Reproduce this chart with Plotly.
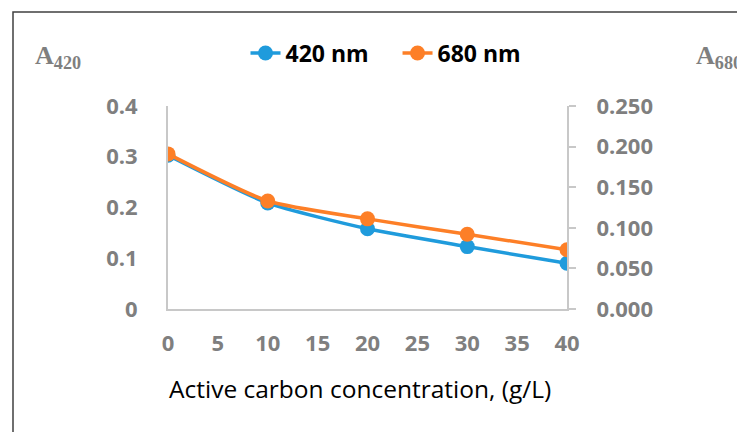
import plotly.graph_objects as go

# Absorbance versus active carbon dose
conc = [0, 10, 20, 30, 40]
a420 = [0.303, 0.209, 0.158, 0.123, 0.090]
a680 = [0.191, 0.133, 0.111, 0.092, 0.073]

left_ticks = [0, 0.1, 0.2, 0.3, 0.4]
left_labels = ["0", "0.1", "0.2", "0.3", "0.4"]
right_ticks = [0, 0.05, 0.10, 0.15, 0.20, 0.25]
right_labels = ["0.000", "0.050", "0.100", "0.150", "0.200", "0.250"]
x_ticks = [0, 5, 10, 15, 20, 25, 30, 35, 40]

BLUE = "#1f9bdc"
ORANGE = "#fd7f27"
GREY = "#7f7f7f"
AXIS = "#c8c8c8"

W, H = 737, 432
L, R, T, B = 168, 170, 106, 123
pw, ph = W - L - R, H - T - B
GAP = "\u00a0" * 4  # extra spacing between legend entries


def px(x):
    return (x - L) / pw


def py(y):
    return (H - B - y) / ph


fig = go.Figure()
fig.add_trace(go.Scatter(
    x=conc, y=a420, name="420 nm" + GAP, mode="lines+markers",
    line=dict(color=BLUE, width=3.5, shape="spline", smoothing=0.6),
    marker=dict(color=BLUE, size=15), yaxis="y"))
fig.add_trace(go.Scatter(
    x=conc, y=a680, name="680 nm", mode="lines+markers",
    line=dict(color=ORANGE, width=3.5, shape="spline", smoothing=0.6),
    marker=dict(color=ORANGE, size=15), yaxis="y2"))

tick_font = dict(family="Open Sans", size=22, color=GREY, weight="bold")

fig.update_layout(
    width=W, height=H,
    margin=dict(l=L, r=R, t=T, b=B),
    paper_bgcolor="white", plot_bgcolor="white",
    showlegend=True,
    legend=dict(orientation="h", x=px(386), y=py(53), xanchor="center", yanchor="middle",
                font=dict(family="Open Sans", size=23, color="black", weight="bold"),
                bgcolor="rgba(0,0,0,0)"),
    xaxis=dict(range=[0, 40], tickvals=x_ticks, showgrid=False, zeroline=False,
               showline=True, linecolor=AXIS, linewidth=2, ticks="",
               tickfont=tick_font, ticklabelstandoff=14),
    yaxis=dict(range=[0, 0.4], tickvals=left_ticks, ticktext=left_labels,
               showgrid=False, zeroline=False, showline=True, linecolor=AXIS,
               linewidth=2, ticks="", tickfont=tick_font,
               ticklabelstandoff=24),
    yaxis2=dict(range=[0, 0.25], tickvals=right_ticks, ticktext=right_labels,
                overlaying="y", side="right", showgrid=False, zeroline=False,
                showline=True, linecolor=AXIS, linewidth=2, ticks="outside",
                ticklen=7, tickcolor=AXIS, tickwidth=2,
                tickfont=tick_font, ticklabelstandoff=16),
    shapes=[dict(type="rect", xref="paper", yref="paper",
                 x0=px(13), x1=px(W + 20), y0=py(H + 20), y1=py(12),
                 line=dict(color="#404040", width=1.5), fillcolor="rgba(0,0,0,0)",
                 layer="below")],
    annotations=[
        dict(text="Active carbon concentration, (g/L)", xref="paper", yref="paper",
             x=px(360), y=py(388), xanchor="center", yanchor="middle", showarrow=False,
             font=dict(family="Open Sans", size=24.5, color="black")),
        dict(text="A<sub>420</sub>", xref="paper", yref="paper", x=px(33), y=py(57),
             xanchor="left", yanchor="middle", showarrow=False,
             font=dict(family="Liberation Serif", size=26, color=GREY, weight="bold")),
        dict(text="A<sub>680</sub>", xref="paper", yref="paper", x=px(694), y=py(57),
             xanchor="left", yanchor="middle", showarrow=False,
             font=dict(family="Liberation Serif", size=26, color=GREY, weight="bold")),
    ],
)

fig.write_html("out.html")
